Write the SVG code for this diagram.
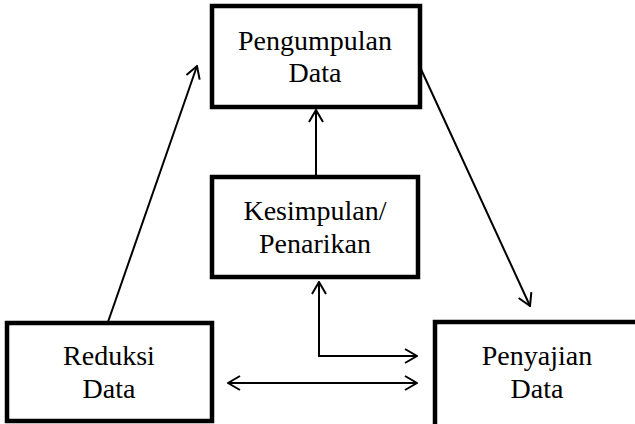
<svg xmlns="http://www.w3.org/2000/svg" width="635" height="424" viewBox="0 0 635 424">
<defs>
<marker id="ah" viewBox="0 0 14 16" refX="13" refY="8" markerWidth="14" markerHeight="16" markerUnits="userSpaceOnUse" orient="auto-start-reverse">
<path d="M1,1 L13,8 L1,15" fill="none" stroke="#000" stroke-width="2"/>
</marker>
<style>
.box{fill:#fff;stroke:#000;stroke-width:4.5}
.lbl{font-family:Liberation Serif, Times New Roman, Times, serif;font-size:28px;fill:#000;text-anchor:middle}
.conn{fill:none;stroke:#000;stroke-width:2}
</style>
</defs>
<rect width="635" height="424" fill="#fff"/>
<g id="connectors">
<line class="conn" x1="108" y1="322" x2="197" y2="66" marker-end="url(#ah)"/>
<line class="conn" x1="420" y1="67" x2="530" y2="306" marker-end="url(#ah)"/>
<line class="conn" x1="316" y1="176" x2="316" y2="110" marker-end="url(#ah)"/>
<polyline class="conn" points="319,282 319,356 417,356" marker-start="url(#ah)" marker-end="url(#ah)"/>
<line class="conn" x1="228" y1="383" x2="417" y2="383" marker-start="url(#ah)" marker-end="url(#ah)"/>
</g>
<g id="pengumpulan">
<rect class="box" x="212" y="6" width="208" height="101"/>
<text class="lbl" x="315" y="50" font-family="Liberation Serif">Pengumpulan</text>
<text class="lbl" x="315" y="82" font-family="Liberation Serif">Data</text>
</g>
<g id="kesimpulan">
<rect class="box" x="212" y="177" width="206" height="100"/>
<text class="lbl" x="315" y="220" font-family="Liberation Serif">Kesimpulan/</text>
<text class="lbl" x="315" y="253" font-family="Liberation Serif">Penarikan</text>
</g>
<g id="reduksi">
<rect class="box" x="7" y="323" width="205" height="98"/>
<text class="lbl" x="109" y="365" font-family="Liberation Serif">Reduksi</text>
<text class="lbl" x="109" y="398" font-family="Liberation Serif">Data</text>
</g>
<g id="penyajian">
<rect class="box" x="435" y="322" width="210" height="110"/>
<text class="lbl" x="537" y="365" font-family="Liberation Serif">Penyajian</text>
<text class="lbl" x="537" y="398" font-family="Liberation Serif">Data</text>
</g>
</svg>
